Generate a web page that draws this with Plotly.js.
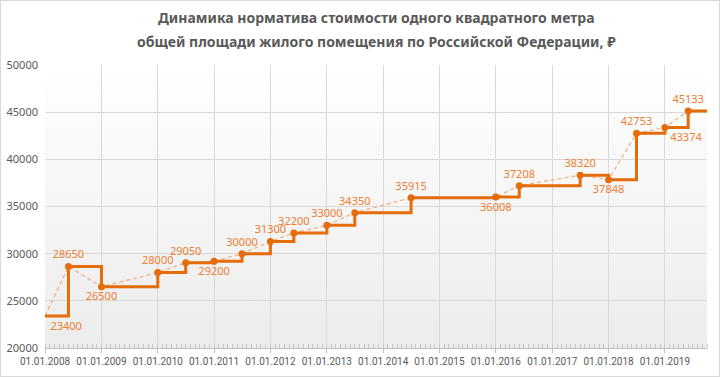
<!DOCTYPE html>
<html>
<head>
<meta charset="utf-8">
<script src="https://cdn.plot.ly/plotly-3.0.1.min.js"></script>
<style>
  html, body { margin: 0; padding: 0; background: #ffffff; }
  #chart { width: 718px; height: 375px; border: 1px solid #d9d9d9; }
</style>
</head>
<body>
<div id="chart"></div>
<script>
// ---- data ----
const dates = [
  "2008-01-01", "2008-06-01", "2009-01-01", "2010-01-01", "2010-07-01",
  "2011-01-01", "2011-07-01", "2012-01-01", "2012-06-01", "2013-01-01",
  "2013-07-01", "2014-07-01", "2016-01-01", "2016-06-01", "2017-07-01",
  "2018-01-01", "2018-07-01", "2019-01-01", "2019-06-01"
];
const values = [
  23400, 28650, 26500, 28000, 29050,
  29200, 30000, 31300, 32200, 33000,
  34350, 35915, 36008, 37208, 38320,
  37848, 42753, 43374, 45133
];
const labelPositions = [
  "bottom right", "top center", "bottom center", "top center", "top center",
  "bottom center", "top center", "top center", "top center", "top center",
  "top center", "top center", "bottom center", "top center", "top center",
  "bottom center", "top center", "bottom right", "top center"
];
const rangeEnd = "2019-10-01";
const titleLines = [
  "Динамика норматива стоимости одного квадратного метра",
  "общей площади жилого помещения по Российской Федерации, ₽"
];

// step line continues to the end of the axis with the last value
const stepDates = dates.concat([rangeEnd]);
const stepValues = values.concat([values[values.length - 1]]);

const orange = "#e46c0a";
const labelOrange = "#ed7d31";
const textGray = "#595959";
const fontFam = "Noto Sans, DejaVu Sans, sans-serif";

const traces = [
  {
    x: dates, y: values, type: "scatter", mode: "lines",
    line: { color: "#f4b183", width: 1.3, dash: "4px,3px" },
    hoverinfo: "skip", showlegend: false
  },
  {
    x: stepDates, y: stepValues, type: "scatter", mode: "lines",
    line: { color: orange, width: 3, shape: "hv" },
    hoverinfo: "skip", showlegend: false
  },
  {
    x: dates, y: values, type: "scatter", mode: "markers+text",
    marker: { color: orange, size: 7, opacity: values.map(function (v, i) { return i === 0 ? 0 : 1; }) },
    text: values.map(String),
    textposition: labelPositions,
    textfont: { color: labelOrange, size: 11, family: fontFam },
    cliponaxis: false,
    showlegend: false
  }
];

const gradSvg = '<svg xmlns="http://www.w3.org/2000/svg" width="100" height="100" preserveAspectRatio="none">' +
  '<defs><linearGradient id="g" x1="0" y1="0" x2="0" y2="1">' +
  '<stop offset="0" stop-color="#ffffff"/><stop offset="1" stop-color="#ececec"/>' +
  '</linearGradient></defs><rect width="100" height="100" fill="url(#g)"/></svg>';

const plotH = 375 - 64 - 28;
const titleY = [18, 41].map(function (py) { return 1 + (65 - py) / plotH; });

const layout = {
  width: 718, height: 375,
  margin: { l: 44, r: 12, t: 64, b: 28 },
  paper_bgcolor: "#ffffff",
  plot_bgcolor: "rgba(0,0,0,0)",
  font: { family: fontFam, color: textGray, size: 11 },
  annotations: titleLines.map(function (t, i) {
    return {
      text: "<b>" + t + "</b>", showarrow: false,
      xref: "paper", yref: "paper", x: 0.5, xanchor: "center",
      y: titleY[i], yanchor: "middle",
      font: { family: fontFam, size: 14, color: textGray }
    };
  }),
  images: [{
    source: "data:image/svg+xml;charset=utf-8," + encodeURIComponent(gradSvg),
    xref: "paper", yref: "paper", x: 0, y: 1, sizex: 1, sizey: 1,
    sizing: "stretch", layer: "below", xanchor: "left", yanchor: "top"
  }],
  xaxis: {
    type: "date",
    range: ["2008-01-01", rangeEnd],
    tick0: "2008-01-01", dtick: "M12",
    tickformat: "%d.%m.%Y",
    tickangle: 0,
    showgrid: true, gridcolor: "#d9d9d9", gridwidth: 1,
    showline: true, linecolor: "#bfbfbf", linewidth: 1,
    ticks: "outside", ticklen: 4, tickcolor: "#bfbfbf",
    minor: { dtick: "M1", ticks: "inside", ticklen: 4, tickcolor: "#c8c8c8", showgrid: false },
    tickfont: { size: 10, color: textGray, family: "Roboto, Noto Sans, sans-serif" },
    zeroline: false, fixedrange: true
  },
  yaxis: {
    range: [20000, 50000],
    dtick: 5000, tick0: 0,
    tickformat: "d",
    showgrid: true, gridcolor: "#d9d9d9", gridwidth: 1,
    showline: false, zeroline: false,
    ticks: "", ticklabelstandoff: 6,
    tickfont: { size: 11, color: textGray },
    fixedrange: true
  }
};

Plotly.newPlot("chart", traces, layout, { displayModeBar: false, staticPlot: true });
</script>
</body>
</html>
